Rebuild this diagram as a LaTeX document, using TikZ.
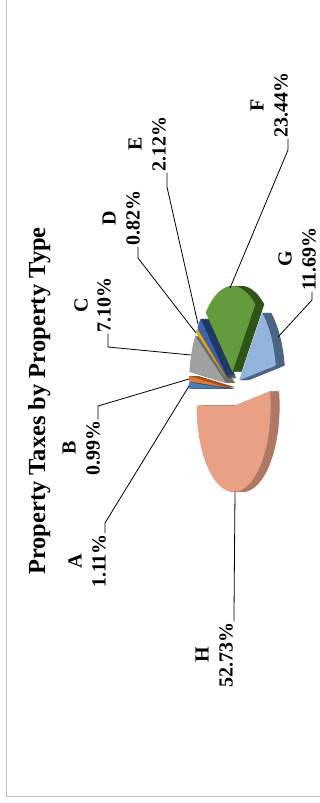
\documentclass[tikz,border=0pt]{standalone}
\usepackage{fontspec}
\setmainfont{Liberation Serif}
\definecolor{cA}{HTML}{4A7EBB}\definecolor{sA}{HTML}{2F5480}
\definecolor{cB}{HTML}{E07A30}\definecolor{sB}{HTML}{A0501A}
\definecolor{cC}{HTML}{A0A0A0}\definecolor{sC}{HTML}{6E6E6E}
\definecolor{cD}{HTML}{DDAE2C}\definecolor{sD}{HTML}{8E6E10}
\definecolor{cE}{HTML}{3B64AD}\definecolor{sE}{HTML}{1F3864}
\definecolor{cF}{HTML}{649B3C}\definecolor{sF}{HTML}{2E5418}
\definecolor{cG}{HTML}{93B4DD}\definecolor{sG}{HTML}{4A6584}
\definecolor{cH}{HTML}{E9A084}\definecolor{sH}{HTML}{B07864}
\newcommand\pslice[4]{%
  \pgfmathsetmacro\slTM{(#1+#2)/2}%
  \pgfmathsetmacro\slAX{233-7.3*cos(\slTM)}%
  \pgfmathsetmacro\slAY{389-17*sin(\slTM)}%
  \foreach \d in {9,8.5,...,0.5}{%
    \fill[#4] (\slAX+\d,\slAY) -- plot[domain=#1:#2,samples=50] ({\slAX+\d-37*cos(\x)},{\slAY-86*sin(\x)}) -- cycle;
  }%
  \fill[#3] (\slAX,\slAY) -- plot[domain=#1:#2,samples=50] ({\slAX-37*cos(\x)},{\slAY-86*sin(\x)}) -- cycle;
}
\begin{document}
\begin{tikzpicture}[x=1pt,y=-1pt,
  frame/.style={draw=black!25, line width=1.5pt},
  ttl/.style={font=\bfseries\fontsize{24.5}{28}\selectfont, rotate=90, anchor=base, inner sep=0pt},
  lbl/.style={font=\bfseries\fontsize{20}{22}\selectfont, rotate=90, inner sep=1pt},
  leader/.style={draw=black, line width=0.8pt},
]
\useasboundingbox (0,0) rectangle (320,803);
\draw[frame] (6.5,0) -- (6.5,796.5) -- (320,796.5);

\node[ttl] (title) at (45,401) {Property Taxes by Property Type};

% pie slices (angles clockwise from the chart's 12 o'clock)
\pslice{0}{4.0}{cA}{sA}
\pslice{4.0}{7.56}{cB}{sB}
\pslice{7.56}{33.12}{cC}{sC}
\pslice{33.12}{36.07}{cD}{sD}
\pslice{36.07}{43.7}{cE}{sE}
\pslice{43.7}{128.08}{cF}{sF}
\pslice{128.08}{170.17}{cG}{sG}
\pslice{170.17}{360}{cH}{sH}

% labels
\node[lbl] (nA) at (75,561) {A};  \node[lbl] (pA) at (99,561) {1.11\%};
\node[lbl] (nB) at (69,448) {B};  \node[lbl] (pB) at (93,448) {0.99\%};
\node[lbl] (nC) at (81,305) {C};  \node[lbl] (pC) at (104,305) {7.10\%};
\node[lbl] (nD) at (109,218) {D}; \node[lbl] (pD) at (133,218) {0.82\%};
\node[lbl] (nE) at (135,144) {E}; \node[lbl] (pE) at (159,144) {2.12\%};
\node[lbl] (nF) at (257,105) {F}; \node[lbl] (pF) at (281,105) {23.44\%};
\node[lbl] (nG) at (285,259) {G}; \node[lbl] (pG) at (309,259) {11.69\%};
\node[lbl] (nH) at (202,655) {H}; \node[lbl] (pH) at (226,655) {52.73\%};

% leader anchors
\coordinate (lsA) at (189,386); \coordinate (lkA) at (105,523);
\coordinate (lsB) at (189,379); \coordinate (lkB) at (98,406);
\coordinate (lsC) at (191,355); \coordinate (lkC) at (108,347);
\coordinate (lsD) at (196,333); \coordinate (lkD) at (138,258);
\coordinate (lsE) at (198,324); \coordinate (lkE) at (167,187);
\coordinate (lsF) at (230,288); \coordinate (lkF) at (288,150);
\coordinate (lsG) at (278,337); \coordinate (lkG) at (312,300);
\coordinate (lsH) at (235,491); \coordinate (lkH) at (234,614);

\draw[leader] (lsA) -- (lkA) -- (lkA |- pA.east);
\draw[leader] (lsB) -- (lkB) -- (lkB |- pB.east);
\draw[leader] (lsC) -- (lkC) -- (lkC |- pC.west);
\draw[leader] (lsD) -- (lkD) -- (lkD |- pD.west);
\draw[leader] (lsE) -- (lkE) -- (lkE |- pE.west);
\draw[leader] (lsF) -- (lkF) -- (lkF |- pF.west);
\draw[leader] (lsG) -- (lkG) -- (lkG |- pG.west);
\draw[leader] (lsH) -- (lkH) -- (lkH |- pH.east);
\end{tikzpicture}
\end{document}
